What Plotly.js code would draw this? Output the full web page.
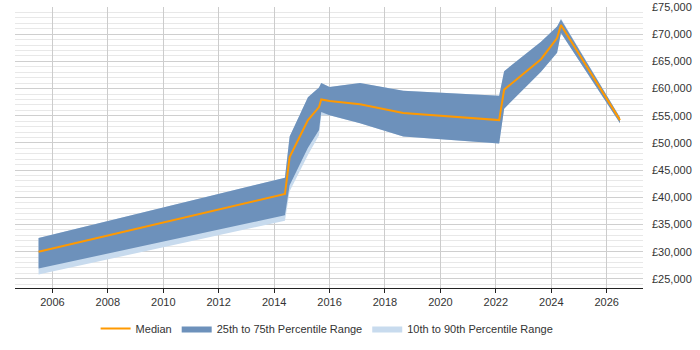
<!DOCTYPE html>
<html>
<head>
<meta charset="utf-8">
<script src="https://cdn.plot.ly/plotly-3.0.1.min.js"></script>
<style>html,body{margin:0;padding:0;background:#fff;}#chart{width:700px;height:350px;}</style>
</head>
<body>
<div id="chart"></div>
<script>
const years  = [2005.5, 2014.39, 2014.56, 2015.22, 2015.62, 2015.70, 2016.0, 2017.1, 2018.66, 2022.12, 2022.3, 2023.63, 2024.21, 2024.35, 2026.48];
const median = [30000, 40600, 47400, 54200, 56600, 58000, 57700, 57100, 55500, 54200, 59800, 65400, 69300, 71700, 54200];
const p75    = [32500, 43600, 51200, 58400, 60200, 61000, 60300, 61000, 59600, 58700, 63200, 68600, 71400, 72700, 54700];
const p25    = [26900, 36700, 42200, 49100, 52400, 55700, 55100, 53600, 51200, 49900, 56300, 63100, 66600, 70200, 53600];
const p90    = [32500, 43600, 51200, 58400, 60200, 61000, 60300, 61000, 59600, 58700, 63200, 68600, 71400, 72900, 54700];
const p10    = [25800, 35700, 41100, 47800, 51400, 55100, 55100, 53600, 51200, 49900, 56300, 63100, 66600, 70200, 53600];

const darkFill = '#6d91bb';
const lightFill = '#c8dbee';
const orange = '#ff9900';

const traces = [
  {x: years, y: p10, mode: 'lines', line: {width: 0, color: lightFill}, showlegend: false, hoverinfo: 'skip'},
  {x: years, y: p90, mode: 'lines', line: {width: 0, color: lightFill}, fill: 'tonexty', fillcolor: lightFill,
   name: '10th to 90th Percentile Range', legendrank: 3},
  {x: years, y: p25, mode: 'lines', line: {width: 0, color: darkFill}, showlegend: false, hoverinfo: 'skip'},
  {x: years, y: p75, mode: 'lines', line: {width: 0, color: darkFill}, fill: 'tonexty', fillcolor: darkFill,
   name: '25th to 75th Percentile Range', legendrank: 2},
  {x: years, y: median, mode: 'lines', line: {width: 2, color: orange}, name: 'Median', legendrank: 1}
];

const layout = {
  width: 700, height: 350,
  margin: {l: 15, r: 57, t: 7, b: 58},
  paper_bgcolor: '#fff', plot_bgcolor: '#fff',
  font: {family: '"Liberation Sans", Arial, sans-serif', size: 11, color: '#333'},
  showlegend: true,
  legend: {orientation: 'h', x: 0.497, xanchor: 'center', y: -0.144, yanchor: 'middle',
           font: {size: 11, color: '#333'}, itemwidth: 30, traceorder: 'normal'},
  xaxis: {
    range: [2004.65, 2027.31], tick0: 2006, dtick: 2, tickformat: 'd',
    showgrid: true, gridcolor: '#cccccc', gridwidth: 1,
    showline: true, linecolor: '#222', linewidth: 1,
    ticks: 'outside', ticklen: 4, tickcolor: '#222',
    zeroline: false, fixedrange: true
  },
  yaxis: {
    side: 'right', range: [23320, 75000], tick0: 25000, dtick: 5000,
    tickprefix: '£', tickformat: ',.0f',
    showgrid: true, gridcolor: '#cfcfcf', gridwidth: 1,
    minor: {dtick: 1000, tick0: 25000, showgrid: true, gridcolor: '#e8e8e8', gridwidth: 1},
    showline: false, zeroline: false, ticks: '', ticklabelstandoff: 8, fixedrange: true
  }
};

Plotly.newPlot('chart', traces, layout, {displayModeBar: false, staticPlot: true});
</script>
</body>
</html>
